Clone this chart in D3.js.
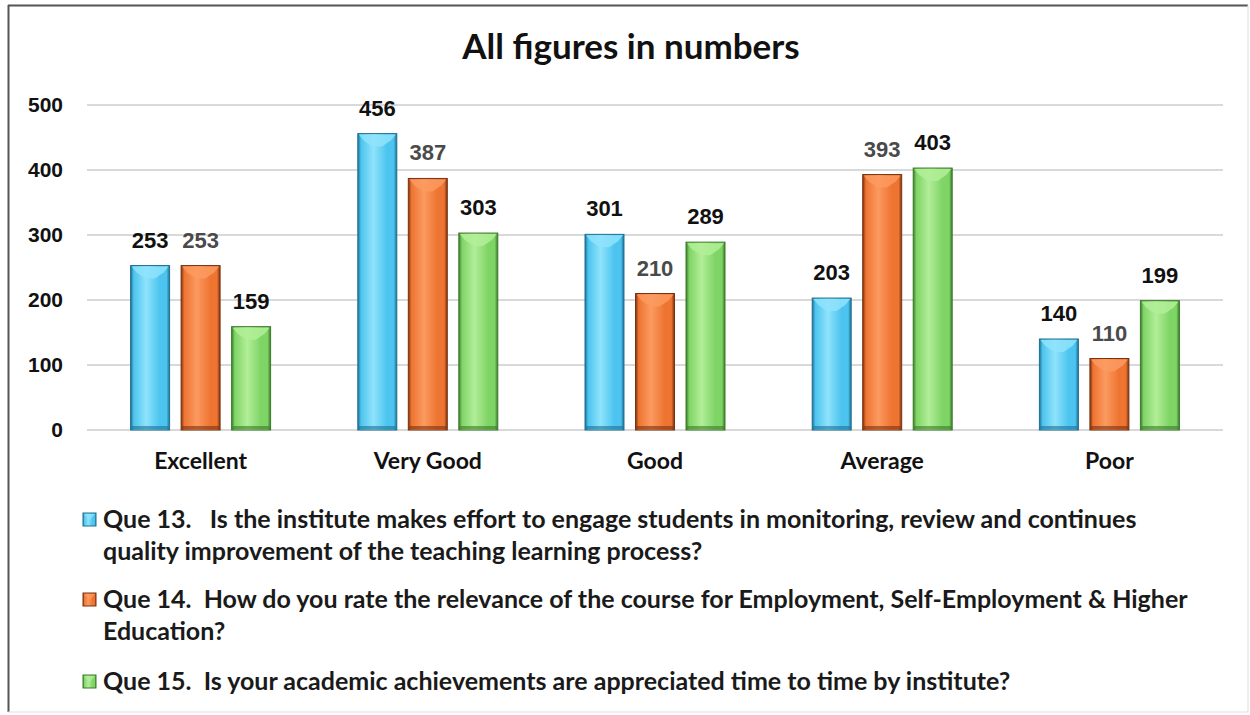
<!DOCTYPE html>
<html>
<head>
<meta charset="utf-8">
<script src="https://cdn.jsdelivr.net/npm/d3@7"></script>
<style>
  body { margin: 0; background: #fff; }
  svg { display: block; }
</style>
</head>
<body>
<div id="chart"></div>
<script>
// Data
const categories = ['Excellent', 'Very Good', 'Good', 'Average', 'Poor'];
const seriesKeys = ['q13', 'q14', 'q15'];
const q13Values = [253, 456, 301, 203, 140];
const q14Values = [253, 387, 210, 393, 110];
const q15Values = [159, 303, 289, 403, 199];
const yTicks = [0, 100, 200, 300, 400, 500];
const legendLines = [
    ['Que 13.   Is the institute makes effort to engage students in monitoring, review and continues',
     'quality improvement of the teaching learning process?'],
    ['Que 14.  How do you rate the relevance of the course for Employment, Self-Employment & Higher',
     'Education?'],
    ['Que 15.  Is your academic achievements are appreciated time to time by institute?']
];
const titleText = 'All figures in numbers';

// Colours: [light, base, dark]
const palette = {
    q13: ['#8fe3fb', '#4cc4ef', '#1f6f93'],
    q14: ['#fb9a60', '#ee7431', '#7a3210'],
    q15: ['#b2ee98', '#7fd466', '#3b7a2a']
};
const labelColor = { q13: '#111', q14: '#4a4a4a', q15: '#111' };

const width = 1250, height = 715;
const plot = { left: 87, right: 1223, top: 105, bottom: 430 };

const svg = d3.select('#chart').append('svg')
    .attr('width', width)
    .attr('height', height);

// Gradients for bars
const defs = svg.append('defs');
seriesKeys.forEach(k => {
    const [light, base, dark] = palette[k];
    const g = defs.append('linearGradient')
        .attr('id', 'grad-' + k)
        .attr('x1', '0%').attr('x2', '100%');
    g.append('stop').attr('offset', '0%').attr('stop-color', dark);
    g.append('stop').attr('offset', '8%').attr('stop-color', base);
    g.append('stop').attr('offset', '40%').attr('stop-color', light);
    g.append('stop').attr('offset', '75%').attr('stop-color', base);
    g.append('stop').attr('offset', '92%').attr('stop-color', base);
    g.append('stop').attr('offset', '100%').attr('stop-color', dark);
});

// Frame
svg.append('line').attr('x1', 8).attr('x2', 1248).attr('y1', 5.5).attr('y2', 5.5)
    .attr('stroke', '#555').attr('stroke-width', 2);
svg.append('line').attr('x1', 8.5).attr('x2', 8.5).attr('y1', 5).attr('y2', 712)
    .attr('stroke', '#555').attr('stroke-width', 2);
svg.append('line').attr('x1', 8).attr('x2', 1248).attr('y1', 712).attr('y2', 712)
    .attr('stroke', '#ddd').attr('stroke-width', 1);
svg.append('line').attr('x1', 1248).attr('x2', 1248).attr('y1', 5).attr('y2', 712)
    .attr('stroke', '#ddd').attr('stroke-width', 1);

// Title
svg.append('text')
    .attr('x', 631).attr('y', 59)
    .attr('text-anchor', 'middle')
    .style('font-family', 'Lato, sans-serif')
    .style('font-weight', 'bold')
    .style('font-size', '35px')
    .attr('fill', '#111')
    .text(titleText);

// Scales
const x0 = d3.scaleBand()
    .domain(categories)
    .range([plot.left, plot.right]);
const x1 = d3.scaleBand()
    .domain(seriesKeys)
    .range([-70, 70])
    .paddingInner(0.228);
const y = d3.scaleLinear()
    .domain([0, 500])
    .range([plot.bottom, plot.top]);

// Gridlines
svg.append('g')
    .selectAll('line')
    .data(yTicks)
    .join('line')
    .attr('x1', plot.left).attr('x2', plot.right)
    .attr('y1', d => y(d)).attr('y2', d => y(d))
    .attr('stroke', '#d9d9d9')
    .attr('stroke-width', 2);

// Y axis labels
const yAxis = d3.axisLeft(y).tickValues(yTicks).tickSize(0).tickPadding(0);
svg.append('g')
    .attr('transform', 'translate(63,0)')
    .call(yAxis)
    .call(g => g.select('.domain').remove())
    .selectAll('text')
    .style('font-family', '"Liberation Sans", Arial, sans-serif')
    .style('font-weight', 'bold')
    .style('font-size', '21px')
    .attr('fill', '#111');

// X axis labels
const xAxis = d3.axisBottom(x0).tickSize(0).tickPadding(0);
svg.append('g')
    .attr('transform', 'translate(0,' + plot.bottom + ')')
    .call(xAxis)
    .call(g => g.select('.domain').remove())
    .selectAll('text')
    .attr('y', 39)
    .attr('dy', 0)
    .style('font-family', 'Lato, sans-serif')
    .style('font-weight', 'bold')
    .style('font-size', '23px')
    .attr('fill', '#111');

// Build rows
const valueMap = { q13: q13Values, q14: q14Values, q15: q15Values };
const rows = categories.map((c, i) => ({
    category: c,
    bars: seriesKeys.map(k => ({ key: k, value: valueMap[k][i] }))
}));

const groups = svg.append('g')
    .selectAll('g')
    .data(rows)
    .join('g')
    .attr('transform', d => 'translate(' + (x0(d.category) + x0.bandwidth() / 2) + ',0)');

const bw = x1.bandwidth();

const bars = groups.selectAll('g.bar')
    .data(d => d.bars)
    .join('g')
    .attr('class', 'bar');

// Body
bars.append('rect')
    .attr('x', d => x1(d.key))
    .attr('y', d => y(d.value))
    .attr('width', bw)
    .attr('height', d => y(0) - y(d.value))
    .attr('fill', d => 'url(#grad-' + d.key + ')')
    .attr('stroke', d => palette[d.key][2])
    .attr('stroke-width', 1);

// Top bevel (chevron)
bars.append('path')
    .attr('d', d => {
        const x = x1(d.key), t = y(d.value);
        return 'M' + (x + 1) + ',' + (t + 1) +
            'L' + (x + bw - 1) + ',' + (t + 1) +
            'L' + (x + bw - 6) + ',' + (t + 7) +
            'L' + (x + bw * 0.62) + ',' + (t + 13) +
            'L' + (x + bw * 0.38) + ',' + (t + 13) +
            'L' + (x + 6) + ',' + (t + 7) + 'Z';
    })
    .attr('fill', d => palette[d.key][0])
    .attr('opacity', 0.85);

// Bottom shade
bars.append('rect')
    .attr('x', d => x1(d.key) + 1)
    .attr('y', y(0) - 4)
    .attr('width', bw - 2)
    .attr('height', 3)
    .attr('fill', d => palette[d.key][2])
    .attr('opacity', 0.6);

// Value labels
bars.append('text')
    .attr('x', d => x1(d.key) + bw / 2)
    .attr('y', d => y(d.value) - 18)
    .attr('text-anchor', 'middle')
    .style('font-family', '"Liberation Sans", Arial, sans-serif')
    .style('font-weight', 'bold')
    .style('font-size', '22px')
    .attr('fill', d => labelColor[d.key])
    .text(d => d.value);

// Legend
const legendY = [528, 608, 690];
const lineGap = 32;
const legend = svg.append('g')
    .selectAll('g')
    .data(seriesKeys)
    .join('g')
    .attr('transform', (d, i) => 'translate(83,' + legendY[i] + ')');

legend.append('rect')
    .attr('x', 0).attr('y', -15)
    .attr('width', 13).attr('height', 13)
    .attr('fill', d => 'url(#grad-' + d + ')')
    .attr('stroke', d => palette[d][2])
    .attr('stroke-width', 1);

legend.append('path')
    .attr('d', 'M1,-14L12,-14L6.5,-8Z')
    .attr('fill', d => palette[d][0])
    .attr('opacity', 0.8);

legend.append('text')
    .style('font-family', 'Lato, sans-serif')
    .style('font-weight', 'bold')
    .style('font-size', '25px')
    .attr('fill', '#1a1a1a')
    .style('white-space', 'pre')
    .attr('xml:space', 'preserve')
    .selectAll('tspan')
    .data((d, i) => legendLines[i])
    .join('tspan')
    .attr('x', 20)
    .attr('y', (d, j) => j * lineGap)
    .text(d => d);
</script>
</body>
</html>
